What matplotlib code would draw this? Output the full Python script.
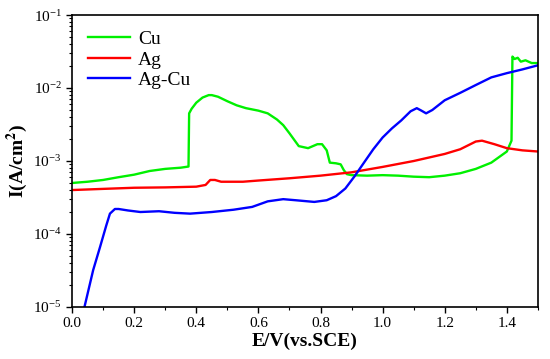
import numpy as np
import matplotlib
matplotlib.use('Agg')
import matplotlib.pyplot as plt
from matplotlib.ticker import MultipleLocator, LogLocator, NullFormatter

# Cu
cu_e = [0.0, 0.05, 0.10, 0.15, 0.20, 0.25, 0.30, 0.35, 0.375, 0.377, 0.385, 0.40,
        0.42, 0.44, 0.45, 0.47, 0.50, 0.53, 0.56, 0.60, 0.63, 0.66, 0.68, 0.70, 0.73,
        0.76, 0.79, 0.805, 0.82, 0.83, 0.85, 0.865, 0.875, 0.885, 0.90, 0.95, 1.00,
        1.05, 1.10, 1.15, 1.20, 1.25, 1.30, 1.35, 1.40, 1.415, 1.418, 1.425, 1.435,
        1.445, 1.46, 1.48, 1.50]
cu_i = [5.0e-4, 5.2e-4, 5.5e-4, 6.0e-4, 6.5e-4, 7.3e-4, 7.8e-4, 8.1e-4, 8.4e-4,
        4.5e-3, 5.2e-3, 6.3e-3, 7.4e-3, 8.0e-3, 8.0e-3, 7.6e-3, 6.6e-3, 5.8e-3, 5.3e-3,
        4.9e-3, 4.5e-3, 3.7e-3, 3.1e-3, 2.4e-3, 1.6e-3, 1.5e-3, 1.7e-3, 1.7e-3,
        1.4e-3, 9.5e-4, 9.3e-4, 9.0e-4, 7.5e-4, 6.6e-4, 6.4e-4, 6.3e-4, 6.4e-4,
        6.3e-4, 6.1e-4, 6.0e-4, 6.3e-4, 6.8e-4, 7.8e-4, 9.5e-4, 1.35e-3, 1.9e-3,
        2.7e-2, 2.5e-2, 2.6e-2, 2.3e-2, 2.4e-2, 2.2e-2, 2.2e-2]

# Ag
ag_e = [0.0, 0.1, 0.2, 0.3, 0.40, 0.43, 0.445, 0.46, 0.48, 0.55, 0.6, 0.7, 0.8,
        0.9, 1.0, 1.1, 1.2, 1.25, 1.3, 1.32, 1.36, 1.40, 1.45, 1.5]
ag_i = [4.0e-4, 4.15e-4, 4.3e-4, 4.35e-4, 4.45e-4, 4.7e-4, 5.5e-4, 5.5e-4, 5.2e-4,
        5.2e-4, 5.4e-4, 5.8e-4, 6.3e-4, 7.0e-4, 8.3e-4, 1.0e-3, 1.25e-3, 1.45e-3,
        1.85e-3, 1.9e-3, 1.7e-3, 1.5e-3, 1.4e-3, 1.35e-3]

# Ag-Cu
agcu_e = [0.04, 0.068, 0.09, 0.11, 0.122, 0.138, 0.15, 0.18, 0.22, 0.28, 0.33, 0.38,
          0.45, 0.52, 0.58, 0.63, 0.68, 0.72, 0.78, 0.82, 0.85, 0.88, 0.91, 0.94,
          0.97, 1.00, 1.03, 1.06, 1.09, 1.11, 1.125, 1.14, 1.16, 1.20, 1.25, 1.30,
          1.35, 1.40, 1.45, 1.50]
agcu_i = [1.0e-5, 3.2e-5, 6.6e-5, 1.3e-4, 1.9e-4, 2.2e-4, 2.2e-4, 2.1e-4, 2.0e-4,
          2.05e-4, 1.95e-4, 1.9e-4, 2.0e-4, 2.15e-4, 2.35e-4, 2.8e-4, 3.0e-4, 2.9e-4,
          2.75e-4, 2.9e-4, 3.3e-4, 4.2e-4, 6.2e-4, 9.5e-4, 1.45e-3, 2.1e-3, 2.8e-3,
          3.6e-3, 4.8e-3, 5.3e-3, 4.9e-3, 4.5e-3, 5.0e-3, 6.8e-3, 8.6e-3, 1.1e-2,
          1.4e-2, 1.6e-2, 1.8e-2, 2.05e-2]

plt.rcParams['font.family'] = ['Liberation Serif', 'DejaVu Serif']
plt.rcParams['mathtext.fontset'] = 'stix'

fig = plt.figure(figsize=(5.5, 3.59), dpi=100)
ax = fig.add_axes([0.131, 0.145, 0.847, 0.813])

ax.semilogy(cu_e, cu_i, color='#00f000', lw=1.7, label='Cu')
ax.semilogy(ag_e, ag_i, color='#ff0000', lw=1.7, label='Ag')
ax.semilogy(agcu_e, agcu_i, color='#0000ff', lw=1.7, label='Ag-Cu')

ax.set_xlim(0, 1.5)
ax.set_ylim(1e-5, 1e-1)
ax.xaxis.set_major_locator(MultipleLocator(0.2))
ax.xaxis.set_minor_locator(MultipleLocator(0.1))
ax.yaxis.set_major_locator(LogLocator(base=10, numticks=10))
ax.yaxis.set_minor_locator(LogLocator(base=10, subs=np.arange(2, 10), numticks=10))
ax.yaxis.set_minor_formatter(NullFormatter())
ax.xaxis.set_major_formatter(matplotlib.ticker.FormatStrFormatter('%.1f'))

ax.tick_params(which='major', direction='out', length=4, width=1, labelsize=11)
ax.tick_params(which='minor', direction='out', length=2.5, width=0.8)
for s in ax.spines.values():
    s.set_linewidth(1.2)

ax.set_xlabel('E/V(vs.SCE)', fontsize=14, fontweight='bold', labelpad=2)
ax.set_ylabel('I(A/cm$^\\mathbf{2}$)', fontsize=14, fontweight='bold', labelpad=2)

ax.legend(loc='upper left', frameon=False, fontsize=14, handlelength=2.2,
          labelspacing=0.15, borderaxespad=0.4, handletextpad=0.4)

fig.savefig('out.png', dpi=100)
